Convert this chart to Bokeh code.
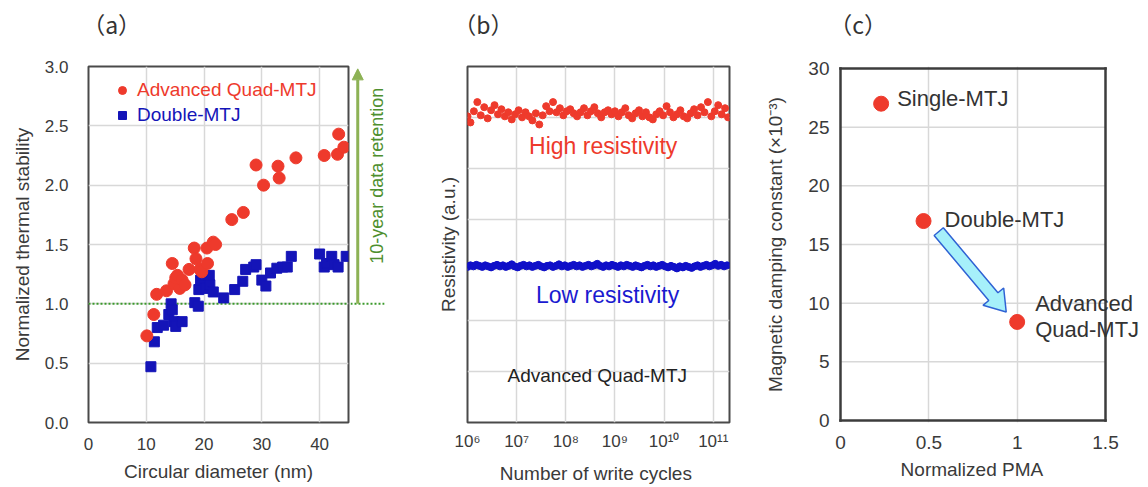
import math
from bokeh.plotting import figure
from bokeh.layouts import row
from bokeh.models import (Range1d, FixedTicker, Legend, LegendItem, Label, Arrow, NormalHead,
                          LinearAxis, LogAxis, Span)
from bokeh.embed import file_html
from bokeh.resources import INLINE

# ---------------- data: panel (a) ----------------
diam_quad = [10.1, 11.3, 11.8, 13.5, 14.5, 14.8, 15.1, 15.4, 15.8, 16.2,
             16.7, 17.4, 18.3, 18.6, 19.3, 19.6, 20.5, 20.6, 21.6, 22.0,
             24.8, 26.8, 29.0, 30.3, 32.8, 33.0, 35.9, 40.8, 43.1, 43.3, 44.2]
stab_quad = [0.73, 0.91, 1.08, 1.11, 1.34, 1.17, 1.22, 1.24, 1.13, 1.20,
             1.16, 1.29, 1.47, 1.38, 1.29, 1.27, 1.47, 1.34, 1.52, 1.50,
             1.71, 1.77, 2.17, 2.00, 2.16, 2.06, 2.23, 2.25, 2.26, 2.43, 2.32]
diam_double = [10.8, 11.4, 11.9, 13.0, 13.9, 14.3, 14.5, 14.8, 15.1, 16.2,
               18.4, 19.0, 19.1, 19.4, 19.7, 20.3, 20.9, 21.0, 21.6, 23.4,
               25.3, 26.7, 27.2, 28.6, 29.0, 30.0, 30.7, 31.5, 32.6, 33.6,
               34.4, 35.1, 40.0, 40.8, 41.2, 42.1, 42.5, 43.2, 44.6]
stab_double = [0.47, 0.68, 0.80, 0.82, 0.91, 1.00, 0.95, 0.85, 0.81, 0.85,
               1.01, 0.98, 1.12, 1.20, 1.24, 1.13, 1.24, 1.16, 1.10, 1.05,
               1.12, 1.19, 1.29, 1.31, 1.33, 1.20, 1.15, 1.26, 1.30, 1.31,
               1.31, 1.40, 1.42, 1.31, 1.34, 1.40, 1.33, 1.31, 1.40]
a_xlim = (0, 45)
a_ylim = (0, 3)
a_xticks = [0, 10, 20, 30, 40]
a_yticks = [0.0, 0.5, 1.0, 1.5, 2.0, 2.5, 3.0]
a_ytick_labels = ["0.0", "0.5", "1.0", "1.5", "2.0", "2.5", "3.0"]
retention_level = 1.0
retention_line_end = 51.2
retention_arrow_x = 46.6
retention_text_x = 50.0

# ---------------- data: panel (b) ----------------
high_exp = [6.00, 6.06, 6.13, 6.20, 6.27, 6.34, 6.41, 6.48, 6.55, 6.62,
            6.69, 6.76, 6.83, 6.90, 6.97, 7.04, 7.11, 7.18, 7.25, 7.32,
            7.39, 7.46, 7.53, 7.60, 7.67, 7.74, 7.81, 7.88, 7.95, 8.02,
            8.09, 8.16, 8.23, 8.30, 8.37, 8.44, 8.51, 8.58, 8.65, 8.72,
            8.79, 8.86, 8.93, 9.00, 9.07, 9.14, 9.21, 9.28, 9.35, 9.42,
            9.49, 9.56, 9.63, 9.70, 9.77, 9.84, 9.91, 9.98, 10.05, 10.12,
            10.19, 10.26, 10.33, 10.40, 10.47, 10.54, 10.61, 10.68, 10.75, 10.82,
            10.89, 10.96, 11.03, 11.10, 11.17, 11.24, 11.30]
high_res = [6.02, 5.90, 6.12, 6.30, 6.04, 6.20, 5.98, 6.14, 6.24, 6.06,
            6.16, 6.02, 6.10, 5.96, 6.06, 6.14, 6.00, 6.10, 6.02, 5.94,
            6.08, 5.86, 6.04, 6.22, 6.12, 6.30, 6.10, 6.18, 6.04, 6.12,
            6.16, 6.08, 6.02, 6.10, 6.18, 6.04, 6.12, 6.20, 6.08, 6.00,
            6.10, 6.14, 6.06, 6.12, 6.02, 6.10, 6.18, 6.04, 5.98, 6.08,
            6.14, 6.02, 6.10, 6.00, 5.96, 6.06, 6.12, 6.04, 6.22, 6.10,
            6.00, 6.06, 6.14, 6.02, 5.98, 6.08, 6.16, 6.04, 6.20, 6.10,
            6.30, 6.02, 6.12, 6.24, 6.06, 6.18, 6.00]
low_exp = [6.00, 6.06, 6.12, 6.18, 6.24, 6.30, 6.36, 6.42, 6.48, 6.54,
           6.60, 6.66, 6.72, 6.78, 6.84, 6.90, 6.96, 7.02, 7.08, 7.14,
           7.20, 7.26, 7.32, 7.38, 7.44, 7.50, 7.56, 7.62, 7.68, 7.74,
           7.80, 7.86, 7.92, 7.98, 8.04, 8.10, 8.16, 8.22, 8.28, 8.34,
           8.40, 8.46, 8.52, 8.58, 8.64, 8.70, 8.76, 8.82, 8.88, 8.94,
           9.00, 9.06, 9.12, 9.18, 9.24, 9.30, 9.36, 9.42, 9.48, 9.54,
           9.60, 9.66, 9.72, 9.78, 9.84, 9.90, 9.96, 10.02, 10.08, 10.14,
           10.20, 10.26, 10.32, 10.38, 10.44, 10.50, 10.56, 10.62, 10.68, 10.74,
           10.80, 10.86, 10.92, 10.98, 11.04, 11.10, 11.16, 11.22, 11.28]
low_res = [3.06, 3.09, 3.07, 3.10, 3.08, 3.06, 3.09, 3.07, 3.05, 3.08,
           3.10, 3.07, 3.09, 3.06, 3.08, 3.11, 3.07, 3.05, 3.08, 3.10,
           3.07, 3.09, 3.06, 3.08, 3.10, 3.07, 3.05, 3.08, 3.09, 3.06,
           3.08, 3.11, 3.07, 3.09, 3.06, 3.08, 3.10, 3.07, 3.09, 3.06,
           3.08, 3.10, 3.07, 3.09, 3.12, 3.08, 3.06, 3.09, 3.07, 3.10,
           3.08, 3.06, 3.09, 3.07, 3.10, 3.08, 3.06, 3.09, 3.07, 3.05,
           3.08, 3.10, 3.07, 3.09, 3.06, 3.08, 3.10, 3.07, 3.05, 3.08,
           3.06, 3.03, 3.07, 3.05, 3.08, 3.06, 3.04, 3.07, 3.09, 3.06,
           3.08, 3.10, 3.07, 3.09, 3.12, 3.08, 3.10, 3.07, 3.09]
b_tick_exp = [6, 7, 8, 9, 10, 11]
b_tick_labels = ["10\u2076", "10\u2077", "10\u2078", "10\u2079", "10\u00b9\u2070", "10\u00b9\u00b9"]
b_ygrid = [1, 2, 3, 4, 5, 6]

# ---------------- data: panel (c) ----------------
pma = [0.23, 0.47, 1.0]
damping = [27.0, 17.0, 8.4]
c_xlim = (0, 1.5)
c_ylim = (0, 30)
c_xticks = [0, 0.5, 1, 1.5]
c_xtick_labels = ["0", "0.5", "1", "1.5"]
c_yticks = [0, 5, 10, 15, 20, 25, 30]
arrow_c_start = (0.556, 16.1)
arrow_c_end = (0.938, 9.25)

# panel captions, placed at a data position above each frame
captions = ["（a）", "（b）", "（c）"]
caption_x = [4.0, 10 ** 6.325, 0.10]

FONT = "Liberation Sans"
RED = "#ee3a2c"
BLUE = "#1414b8"
TXT = "#3a3a3a"
GRID = "#d8d8d8"
FRAME = "#4a4a4a"
H = 486
TOP, BOT = 66, 64
FRAME_H = H - TOP - BOT


def padded(lim, pad_lo, pad_hi, span):
    lo, hi = lim
    u = (hi - lo) / (span - pad_lo - pad_hi)
    return Range1d(lo - pad_lo * u, hi + pad_hi * u), u


def style(p, tick_size, label_size):
    p.background_fill_color = "white"
    p.border_fill_color = "white"
    for ax in p.axis:
        ax.axis_line_color = None
        ax.major_tick_line_color = None
        ax.minor_tick_line_color = None
        ax.major_tick_out = 0
        ax.major_tick_in = 0
        ax.minor_tick_out = 0
        ax.minor_tick_in = 0
        ax.major_label_text_font = FONT
        ax.major_label_text_font_size = tick_size
        ax.major_label_text_color = TXT
        ax.axis_label_text_font = FONT
        ax.axis_label_text_font_size = label_size
        ax.axis_label_text_font_style = "normal"
        ax.axis_label_text_color = TXT
    p.grid.grid_line_color = GRID
    p.grid.grid_line_width = 1.5


def add_caption(p, i, log=False):
    cls = LogAxis if log else LinearAxis
    ax = cls(ticker=FixedTicker(ticks=[caption_x[i]]),
             major_label_overrides={caption_x[i]: captions[i]},
             axis_line_color=None, major_tick_line_color=None, minor_tick_line_color=None,
             major_tick_out=0, major_tick_in=0, minor_tick_out=0, minor_tick_in=0,
             major_label_standoff=26, major_label_text_font="Noto Sans CJK JP",
             major_label_text_font_size="23px", major_label_text_color="#333333")
    p.add_layout(ax, "above")


# ---------------- panel (a) ----------------
L1, FW1 = 88, 260
p1 = figure(width=L1 + FW1 + 2, height=H, x_range=Range1d(*a_xlim), y_range=Range1d(*a_ylim),
            output_backend="svg", toolbar_location=None,
            min_border_left=L1, min_border_right=2, min_border_top=TOP, min_border_bottom=BOT)
style(p1, "17px", "19px")
p1.outline_line_color = FRAME
p1.outline_line_width = 2
p1.xaxis.ticker = FixedTicker(ticks=a_xticks)
p1.yaxis.ticker = FixedTicker(ticks=a_yticks)
p1.xgrid.ticker = FixedTicker(ticks=a_xticks)
p1.ygrid.ticker = FixedTicker(ticks=a_yticks)
p1.yaxis.major_label_overrides = {t: s for t, s in zip(a_yticks, a_ytick_labels)}
p1.xaxis.axis_label = "Circular diameter (nm)"
p1.yaxis.axis_label = "Normalized thermal stability"
p1.xaxis.major_label_standoff = 15
p1.xaxis.axis_label_standoff = 8
p1.yaxis.major_label_standoff = 20
p1.yaxis.axis_label_standoff = 9
p1.segment(x0=a_xlim[0], y0=retention_level, x1=a_xlim[1], y1=retention_level,
           line_color="#3c9a2c", line_width=2, line_dash="2 2")
r_dbl = p1.scatter(diam_double, stab_double, marker="square", size=10, color=BLUE)
r_quad = p1.scatter(diam_quad, stab_quad, marker="circle", size=12, color=RED)
for item_label, rend, col, vy in [("Advanced Quad-MTJ", r_quad, RED, 321),
                                  ("Double-MTJ", r_dbl, BLUE, 296)]:
    leg = Legend(items=[LegendItem(label=item_label, renderers=[rend])], location=(24, vy),
                 margin=0, padding=0, spacing=0, glyph_width=20, glyph_height=20,
                 label_height=20, label_standoff=5, border_line_color=None,
                 background_fill_alpha=0, label_text_color=col, label_text_font=FONT,
                 label_text_font_size="19px")
    p1.add_layout(leg, "center")
add_caption(p1, 0)

# strip to the right of panel (a): retention arrow and its caption
ux1 = (a_xlim[1] - a_xlim[0]) / FW1
W1b = 38
x1b0 = a_xlim[1] + 2 * ux1
p1b = figure(width=W1b, height=H, x_range=Range1d(x1b0, x1b0 + W1b * ux1), y_range=Range1d(*a_ylim),
             x_axis_location=None, y_axis_location=None, output_backend="svg", toolbar_location=None,
             min_border_left=0, min_border_right=0, min_border_top=TOP, min_border_bottom=BOT)
p1b.outline_line_color = None
p1b.background_fill_color = "white"
p1b.border_fill_color = "white"
p1b.grid.visible = False
p1b.segment(x0=x1b0, y0=retention_level, x1=retention_line_end, y1=retention_level,
            line_color="#3c9a2c", line_width=2, line_dash="2 2")
p1b.add_layout(Arrow(end=NormalHead(size=11, fill_color="#8db255", line_color="#8db255"),
                     x_start=retention_arrow_x, y_start=retention_level,
                     x_end=retention_arrow_x, y_end=a_ylim[1] - 0.02,
                     line_color="#8db255", line_width=3))
p1b.add_layout(Label(x=retention_text_x, y=2.08, text="10-year data retention", angle=math.pi / 2,
                     text_align="center", text_baseline="middle", text_font=FONT,
                     text_font_size="18px", text_color="#4e8f2e"))

# ---------------- panel (b) ----------------
p2 = figure(width=374, height=H, x_axis_type="log", x_range=Range1d(1e6, 10 ** 11.33),
            y_range=Range1d(0, 7), output_backend="svg", toolbar_location=None,
            min_border_left=79, min_border_right=33, min_border_top=TOP, min_border_bottom=BOT)
style(p2, "17px", "19px")
p2.outline_line_color = FRAME
p2.outline_line_width = 2
b_ticks = [10 ** e for e in b_tick_exp]
p2.xaxis.ticker = FixedTicker(ticks=b_ticks)
p2.xgrid.ticker = FixedTicker(ticks=b_ticks)
p2.xaxis.major_label_overrides = {t: s for t, s in zip(b_ticks, b_tick_labels)}
p2.yaxis.ticker = FixedTicker(ticks=[])
p2.ygrid.ticker = FixedTicker(ticks=b_ygrid)
p2.yaxis.major_label_standoff = 0
p2.yaxis.axis_label_standoff = 9
p2.xaxis.major_label_standoff = 9
p2.xaxis.axis_label_standoff = 9
p2.xaxis.axis_label = "Number  of write cycles"
p2.yaxis.axis_label = "Resistivity (a.u.)"
p2.scatter([10 ** e for e in high_exp], high_res, marker="circle", size=7, color=RED)
p2.scatter([10 ** e for e in low_exp], low_res, marker="circle", size=7, color="#1010c8")
for txt, ex, yy, col, fs in [("High resistivity", 8.76, 5.44, RED, "23px"),
                             ("Low resistivity", 8.85, 2.50, "#1a1ad0", "23px"),
                             ("Advanced Quad-MTJ", 8.64, 0.92, "#222222", "19px")]:
    p2.add_layout(Label(x=10 ** ex, y=yy, text=txt, text_align="center", text_baseline="middle",
                        text_font=FONT, text_font_size=fs, text_color=col))
add_caption(p2, 1, log=True)

# ---------------- panel (c) ----------------
W3, L3 = 385, 76
xr3, ux3 = padded(c_xlim, 2, 42, W3 - L3)
yr3, uy3 = padded(c_ylim, 2, 2, FRAME_H)
p3 = figure(width=W3, height=H, x_range=xr3, y_range=yr3,
            output_backend="svg", toolbar_location=None,
            min_border_left=L3, min_border_right=0, min_border_top=TOP, min_border_bottom=BOT)
style(p3, "19px", "19px")
p3.outline_line_color = None
p3.xaxis.ticker = FixedTicker(ticks=c_xticks)
p3.xgrid.ticker = FixedTicker(ticks=[t for t in c_xticks if c_xlim[0] < t < c_xlim[1]])
p3.xaxis.major_label_overrides = {t: s for t, s in zip(c_xticks, c_xtick_labels)}
p3.yaxis.ticker = FixedTicker(ticks=c_yticks)
p3.ygrid.grid_line_color = None
# the frame is wider than the boxed area; trailing no-break spaces re-centre the label on the box
p3.xaxis.axis_label = "Normalized PMA" + "\u00a0" * 8
p3.yaxis.axis_label = "Magnetic damping constant (\u00d710\u207b\u00b3)"
p3.xaxis.major_label_standoff = 13
p3.xaxis.axis_label_standoff = 7
p3.yaxis.major_label_standoff = 9
p3.yaxis.axis_label_standoff = 19
hg3 = [t for t in c_yticks if c_ylim[0] < t < c_ylim[1]]
p3.segment(x0=[c_xlim[0]] * len(hg3), x1=[c_xlim[1]] * len(hg3), y0=hg3, y1=hg3,
           line_color=GRID, line_width=1.5)
# frame box of panel (c): its four edges, from the axis limits
p3.segment(x0=[c_xlim[0], c_xlim[0], c_xlim[0], c_xlim[1]],
           y0=[c_ylim[0], c_ylim[1], c_ylim[0], c_ylim[0]],
           x1=[c_xlim[1], c_xlim[1], c_xlim[0], c_xlim[1]],
           y1=[c_ylim[0], c_ylim[1], c_ylim[1], c_ylim[1]],
           line_color="#3c3c3c", line_width=2.5, line_cap="square")

# block arrow, built in pixel space from its two end points
sx, sy = 1.0 / ux3, 1.0 / uy3
x0p, y0p = arrow_c_start[0] * sx, arrow_c_start[1] * sy
x1p, y1p = arrow_c_end[0] * sx, arrow_c_end[1] * sy
dx, dy = x1p - x0p, y1p - y0p
L = math.hypot(dx, dy)
ux, uy = dx / L, dy / L
nx, ny = -uy, ux
w, hw, hl = 6.0, 13.5, 20.0
local = [(0, w), (L - hl, w), (L - hl, hw), (L, 0), (L - hl, -hw), (L - hl, -w), (0, -w)]
ax_ = [(x0p + a * ux + b * nx) / sx for a, b in local]
ay_ = [(y0p + a * uy + b * ny) / sy for a, b in local]
p3.patch(ax_, ay_, fill_color="#a6f0fa", line_color="#2f62d4", line_width=1.5)

p3.scatter(pma, damping, marker="circle", size=15, color=RED)
for txt, i, xo, yo in [("Single-MTJ", 0, 16, 5), ("Double-MTJ", 1, 21, 2),
                       ("Advanced", 2, 18, 18), ("Quad-MTJ", 2, 18, -8)]:
    p3.add_layout(Label(x=pma[i], y=damping[i], x_offset=xo, y_offset=yo, text=txt,
                        text_align="left", text_baseline="middle", text_font=FONT,
                        text_font_size="22px", text_color="#333333"))
add_caption(p3, 2)

layout = row(p1, p1b, p2, p3)
open("out.html", "w").write(file_html(layout, INLINE))
